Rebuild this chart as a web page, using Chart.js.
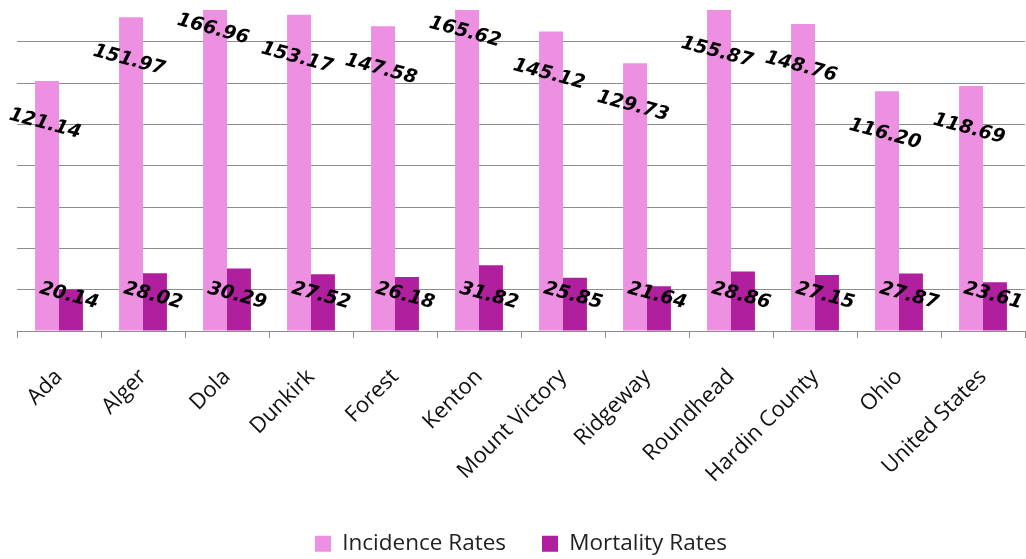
<!DOCTYPE html>
<html>
<head>
<meta charset="utf-8">
<script src="https://cdn.jsdelivr.net/npm/chart.js@4.4.1/dist/chart.umd.min.js"></script>
<style>
  html, body { margin: 0; padding: 0; background: #ffffff; }
  #wrap { width: 1026px; height: 559px; }
</style>
</head>
<body>
<div id="wrap"><canvas id="c" width="1026" height="559"></canvas></div>
<script>
const categories = ["Ada", "Alger", "Dola", "Dunkirk", "Forest", "Kenton", "Mount Victory", "Ridgeway", "Roundhead", "Hardin County", "Ohio", "United States"];
const incidenceRates = [121.14, 151.97, 166.96, 153.17, 147.58, 165.62, 145.12, 129.73, 155.87, 148.76, 116.20, 118.69];
const mortalityRates = [20.14, 28.02, 30.29, 27.52, 26.18, 31.82, 25.85, 21.64, 28.86, 27.15, 27.87, 23.61];
const seriesNames = ["Incidence Rates", "Mortality Rates"];
const yMin = 0, yMax = 155.5, yStep = 20;

const labelPlugin = {
  id: 'rotLabels',
  afterDatasetsDraw(chart) {
    const ctx = chart.ctx;
    const yScale = chart.scales.y;
    ctx.save();
    ctx.font = 'italic bold 19px "DejaVu Sans"';
    ctx.fillStyle = '#000000';
    ctx.textAlign = 'center';
    ctx.textBaseline = 'middle';
    chart.data.datasets.forEach((ds, di) => {
      const meta = chart.getDatasetMeta(di);
      meta.data.forEach((bar, i) => {
        const v = ds.data[i];
        const x = bar.x - 2;
        const y = di === 0 ? yScale.getPixelForValue(v) + 43 : yScale.getPixelForValue(17);
        ctx.save();
        ctx.translate(x, y);
        ctx.rotate(15 * Math.PI / 180);
        ctx.fillText(v.toFixed(2), 0, 0);
        ctx.restore();
      });
    });
    ctx.restore();
  }
};

new Chart(document.getElementById('c'), {
  type: 'bar',
  data: {
    labels: categories,
    datasets: [
      { label: seriesNames[0], data: incidenceRates, backgroundColor: '#EE90E2', borderWidth: 0 },
      { label: seriesNames[1], data: mortalityRates, backgroundColor: '#B01F9E', borderWidth: 0 }
    ]
  },
  options: {
    responsive: false,
    animation: false,
    devicePixelRatio: 1,
    layout: { padding: { left: 17, right: 1, top: 10, bottom: -6 } },
    datasets: { bar: { categoryPercentage: 0.57, barPercentage: 1.0 } },
    plugins: {
      legend: {
        position: 'bottom',
        labels: {
          boxWidth: 16, boxHeight: 16,
          padding: 36,
          color: '#222222',
          font: { family: '"Open Sans"', size: 22.5 }
        }
      },
      tooltip: { enabled: false }
    },
    scales: {
      x: {
        offset: true,
        grid: { display: true, drawOnChartArea: false, drawTicks: true, tickLength: 7, color: '#8c8c8c', offset: true },
        border: { display: true, color: '#8c8c8c', width: 1 },
        ticks: {
          minRotation: 45, maxRotation: 45, autoSkip: false,
          padding: 26,
          color: '#111111',
          font: { family: '"Open Sans"', size: 22 }
        },
        afterFit(scale) {
          scale.height = 165.5;
          scale.paddingLeft = 0;
          scale.paddingRight = 0;
        }
      },
      y: {
        min: yMin, max: yMax,
        ticks: { display: false, stepSize: yStep },
        grid: {
          drawTicks: false,
          color: (c) => (c.tick && c.tick.value % yStep === 0 && c.tick.value !== 0) ? '#8c8c8c' : 'rgba(0,0,0,0)',
          lineWidth: 1
        },
        border: { display: false },
        afterFit(scale) { scale.width = 0; }
      }
    }
  },
  plugins: [labelPlugin]
});
</script>
</body>
</html>
